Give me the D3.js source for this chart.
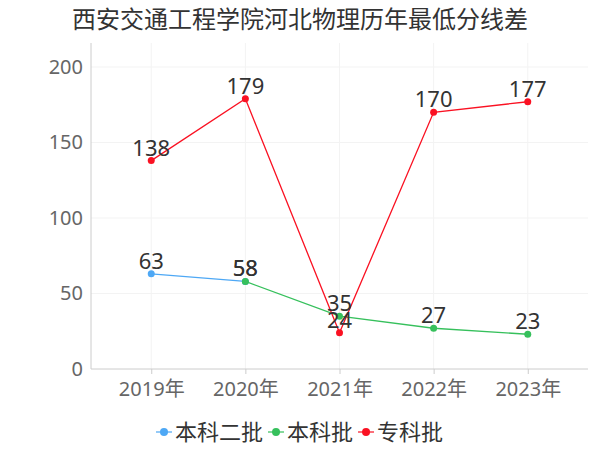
<!DOCTYPE html>
<html>
<head>
<meta charset="utf-8">
<script src="https://cdn.jsdelivr.net/npm/d3@7"></script>
<style>
  body { margin: 0; background: #fff; }
  text { font-family: "Noto Sans", "Noto Sans CJK SC", sans-serif; }
</style>
</head>
<body>
<div id="chart"></div>
<script>
var title = "西安交通工程学院河北物理历年最低分线差";
var years = ["2019年", "2020年", "2021年", "2022年", "2023年"];
var yTicks = [0, 50, 100, 150, 200];
var seriesNames = ["本科二批", "本科批", "专科批"];
var seriesColors = ["#4ea8f5", "#36c05c", "#fa1122"];
var benke2 = [63, 58, null, null, null];
var benke = [null, 58, 35, 27, 23];
var zhuanke = [138, 179, 24, 170, 177];

var width = 600,
  height = 450;
var plotLeft = 91,
  plotRight = 588,
  plotTop = 43,
  plotBottom = 369;

var svg = d3
  .select("#chart")
  .append("svg")
  .attr("width", width)
  .attr("height", height);

var x = d3
  .scalePoint()
  .domain(years)
  .range([plotLeft, plotRight])
  .padding(0.64);
var y = d3
  .scaleLinear()
  .domain([0, 200])
  .range([plotBottom, 67]);

// title
svg
  .append("text")
  .attr("x", 300)
  .attr("y", 28)
  .attr("text-anchor", "middle")
  .attr("font-size", "24px")
  .attr("fill", "#333")
  .text(title);

// grid
svg
  .append("g")
  .selectAll("line")
  .data(yTicks.slice(1))
  .enter()
  .append("line")
  .attr("x1", plotLeft)
  .attr("x2", plotRight)
  .attr("y1", function(d) { return y(d); })
  .attr("y2", function(d) { return y(d); })
  .attr("stroke", "#f3f3f3");
svg
  .append("g")
  .selectAll("line")
  .data(years)
  .enter()
  .append("line")
  .attr("x1", function(d) { return x(d); })
  .attr("x2", function(d) { return x(d); })
  .attr("y1", plotTop)
  .attr("y2", plotBottom)
  .attr("stroke", "#f3f3f3");

// axes
var yAxis = svg
  .append("g")
  .attr("transform", "translate(" + plotLeft + ",0)")
  .call(d3.axisLeft(y).tickValues(yTicks).tickSize(0).tickPadding(8));
yAxis.select(".domain").remove();
yAxis
  .append("line")
  .attr("y1", plotTop)
  .attr("y2", plotBottom)
  .attr("stroke", "#ccc");
yAxis.selectAll("text").attr("font-size", "20px").attr("fill", "#666");

var xAxis = svg
  .append("g")
  .attr("transform", "translate(0," + plotBottom + ")")
  .call(d3.axisBottom(x).tickSize(5).tickPadding(8));
xAxis.select(".domain").remove();
xAxis
  .append("line")
  .attr("x1", plotLeft)
  .attr("x2", plotRight)
  .attr("stroke", "#ccc");
xAxis.selectAll(".tick line").attr("stroke", "#ccc");
xAxis.selectAll("text").attr("font-size", "20px").attr("fill", "#666");

// series
var allSeries = [benke2, benke, zhuanke];
var line = d3
  .line()
  .defined(function(d) { return d != null; })
  .x(function(d, i) { return x(years[i]); })
  .y(function(d) { return y(d); });

allSeries.forEach(function(values, si) {
  var g = svg.append("g");
  g.append("path")
    .attr("d", line(values))
    .attr("fill", "none")
    .attr("stroke", seriesColors[si])
    .attr("stroke-width", 1.3);
  g.selectAll("circle")
    .data(values.map(function(v, i) { return { v: v, i: i }; }).filter(function(d) { return d.v != null; }))
    .enter()
    .append("circle")
    .attr("cx", function(d) { return x(years[d.i]); })
    .attr("cy", function(d) { return y(d.v); })
    .attr("r", 3.5)
    .attr("fill", seriesColors[si]);
});

// value labels
allSeries.forEach(function(values) {
  svg
    .append("g")
    .selectAll("text")
    .data(values.map(function(v, i) { return { v: v, i: i }; }).filter(function(d) { return d.v != null; }))
    .enter()
    .append("text")
    .attr("x", function(d) { return x(years[d.i]); })
    .attr("y", function(d) { return y(d.v) - 5; })
    .attr("text-anchor", "middle")
    .attr("font-size", "22px")
    .attr("fill", "#333")
    .text(function(d) { return d.v; });
});

// legend
var legend = svg.append("g").attr("transform", "translate(0,432)");
var lx = 156;
seriesNames.forEach(function(name, i) {
  var item = legend.append("g").attr("transform", "translate(" + lx + ",0)");
  item
    .append("line")
    .attr("x1", 0)
    .attr("x2", 16)
    .attr("stroke", seriesColors[i])
    .attr("stroke-width", 2)
    .attr("opacity", 0.6);
  item
    .append("circle")
    .attr("cx", 8)
    .attr("r", 4)
    .attr("fill", seriesColors[i]);
  var t = item
    .append("text")
    .attr("x", 19)
    .attr("dy", "0.35em")
    .attr("font-size", "22px")
    .attr("fill", "#333")
    .text(name);
  lx += 19 + t.node().getComputedTextLength() + 5;
});
</script>
</body>
</html>
